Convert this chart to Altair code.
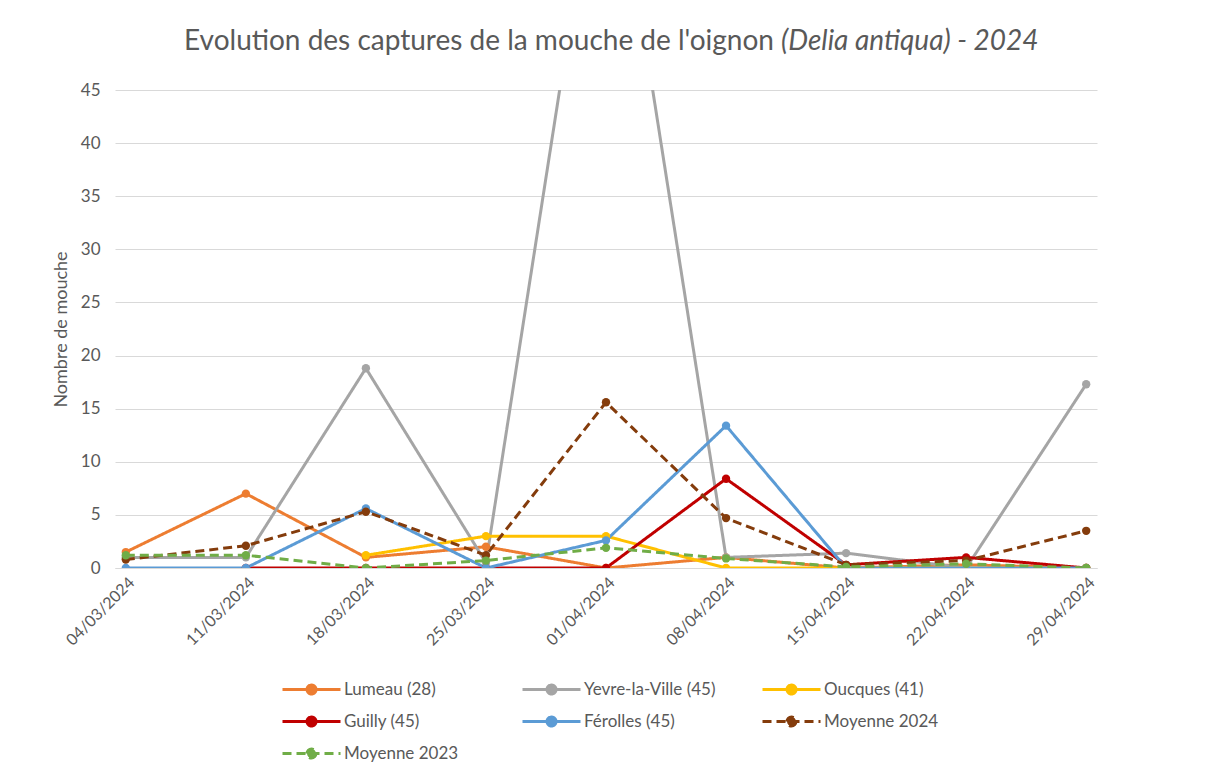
import altair as alt
import pandas as pd

dates = ["04/03/2024", "11/03/2024", "18/03/2024", "25/03/2024", "01/04/2024",
         "08/04/2024", "15/04/2024", "22/04/2024", "29/04/2024"]
series_names = ["Lumeau (28)", "Yevre-la-Ville (45)", "Oucques (41)", "Guilly (45)",
                "Férolles (45)", "Moyenne 2024", "Moyenne 2023"]

lumeau = [1.5, 7.0, 1.0, 2.0, 0.0, 1.0, 0.0, 0.3, 0.0]
yevre = [1.0, 1.0, 18.8, 0.5, 73.0, 1.0, 1.4, 0.0, 17.3]
oucques = [None, None, 1.2, 3.0, 3.0, 0.0, 0.0, 0.0, 0.0]
guilly = [None, 0.0, 0.0, 0.0, 0.0, 8.4, 0.3, 1.0, 0.0]
ferolles = [0.0, 0.0, 5.6, 0.0, 2.6, 13.4, 0.0, 0.0, 0.0]
moy2024 = [0.8, 2.1, 5.3, 1.2, 15.6, 4.7, 0.3, 0.7, 3.5]
moy2023 = [1.2, 1.2, 0.0, 0.7, 1.9, 0.9, 0.1, 0.4, 0.0]

colors = ["#ED7D31", "#A5A5A5", "#FFC000", "#C00000", "#5B9BD5", "#843C0C", "#70AD47"]
dashes = [[1, 0], [1, 0], [1, 0], [1, 0], [1, 0], [9, 5], [9, 5]]

y_ticks = [0, 5, 10, 15, 20, 25, 30, 35, 40, 45]
title_parts = ["Evolution des captures de la mouche de l'oignon", "(Delia antiqua) - 2024"]

rows = []
for name, vals in zip(series_names, [lumeau, yevre, oucques, guilly, ferolles, moy2024, moy2023]):
    for d, v in zip(dates, vals):
        if v is not None:
            rows.append({"date": d, "series": name, "value": v})
df = pd.DataFrame(rows)

FONT = "Lato"
TXT = "#595959"

x = alt.X("date:O", sort=dates,
          scale=alt.Scale(type="point", padding=0.09),
          axis=alt.Axis(title=None, labelAngle=-45, labelFontSize=16, labelColor=TXT,
                        labelPadding=6, ticks=False, domainColor="#D9D9D9", domainWidth=1))
y = alt.Y("value:Q", scale=alt.Scale(domain=[0, 45], nice=False, zero=True),
          axis=alt.Axis(values=y_ticks, title="Nombre de mouche", titleFontSize=18,
                        titleFontWeight="normal", titleColor=TXT, titlePadding=10,
                        labelFontSize=17, labelColor=TXT, labelPadding=15,
                        ticks=False, domain=False, gridColor="#D9D9D9", gridWidth=1))
color = alt.Color("series:N", sort=series_names,
                  scale=alt.Scale(domain=series_names, range=colors),
                  legend=alt.Legend(title=None))
dash = alt.StrokeDash("series:N", sort=series_names,
                      scale=alt.Scale(domain=series_names, range=dashes),
                      legend=alt.Legend(title=None))

base = alt.Chart(df)
lines = base.mark_line(strokeWidth=3, clip=True).encode(x=x, y=y, color=color, strokeDash=dash)
points = base.mark_point(filled=True, size=70, opacity=1, clip=True).encode(x=x, y=y, color=color)

tdf = pd.DataFrame({"part": title_parts, "idx": [0, 1]})
t1 = alt.Chart(tdf).transform_filter("datum.idx == 0").mark_text(
    font=FONT, fontSize=28, color=TXT, align="right", baseline="middle"
).encode(x=alt.value(659), y=alt.value(-48), text="part:N")
t2 = alt.Chart(tdf).transform_filter("datum.idx == 1").mark_text(
    font=FONT, fontSize=28, color=TXT, align="left", baseline="middle", fontStyle="italic"
).encode(x=alt.value(666), y=alt.value(-48), text="part:N")

# legend symbol: a line with a dot, drawn to the right of the symbol anchor
sym = "M-1,0L4.8,0M1.45,0A0.45,0.45,0,1,1,2.35,0A0.45,0.45,0,1,1,1.45,0Z"

chart = alt.layer(lines, points, t1, t2).properties(
    width=982, height=478,
    autosize=alt.AutoSizeParams(type="none"),
    padding={"left": 107, "top": 82, "right": 112, "bottom": 204},
).configure(font=FONT).configure_view(stroke=None).configure_legend(
    orient="none", legendX=166, legendY=588, columns=3, gridAlign="all",
    direction="horizontal",
    columnPadding=40, rowPadding=10, symbolType=sym, symbolSize=400,
    symbolStrokeWidth=3, labelFontSize=17, labelColor=TXT, labelFont=FONT,
    labelOffset=40, labelLimit=300,
)

chart.save("out.html", embed_options={"renderer": "svg", "actions": False})
